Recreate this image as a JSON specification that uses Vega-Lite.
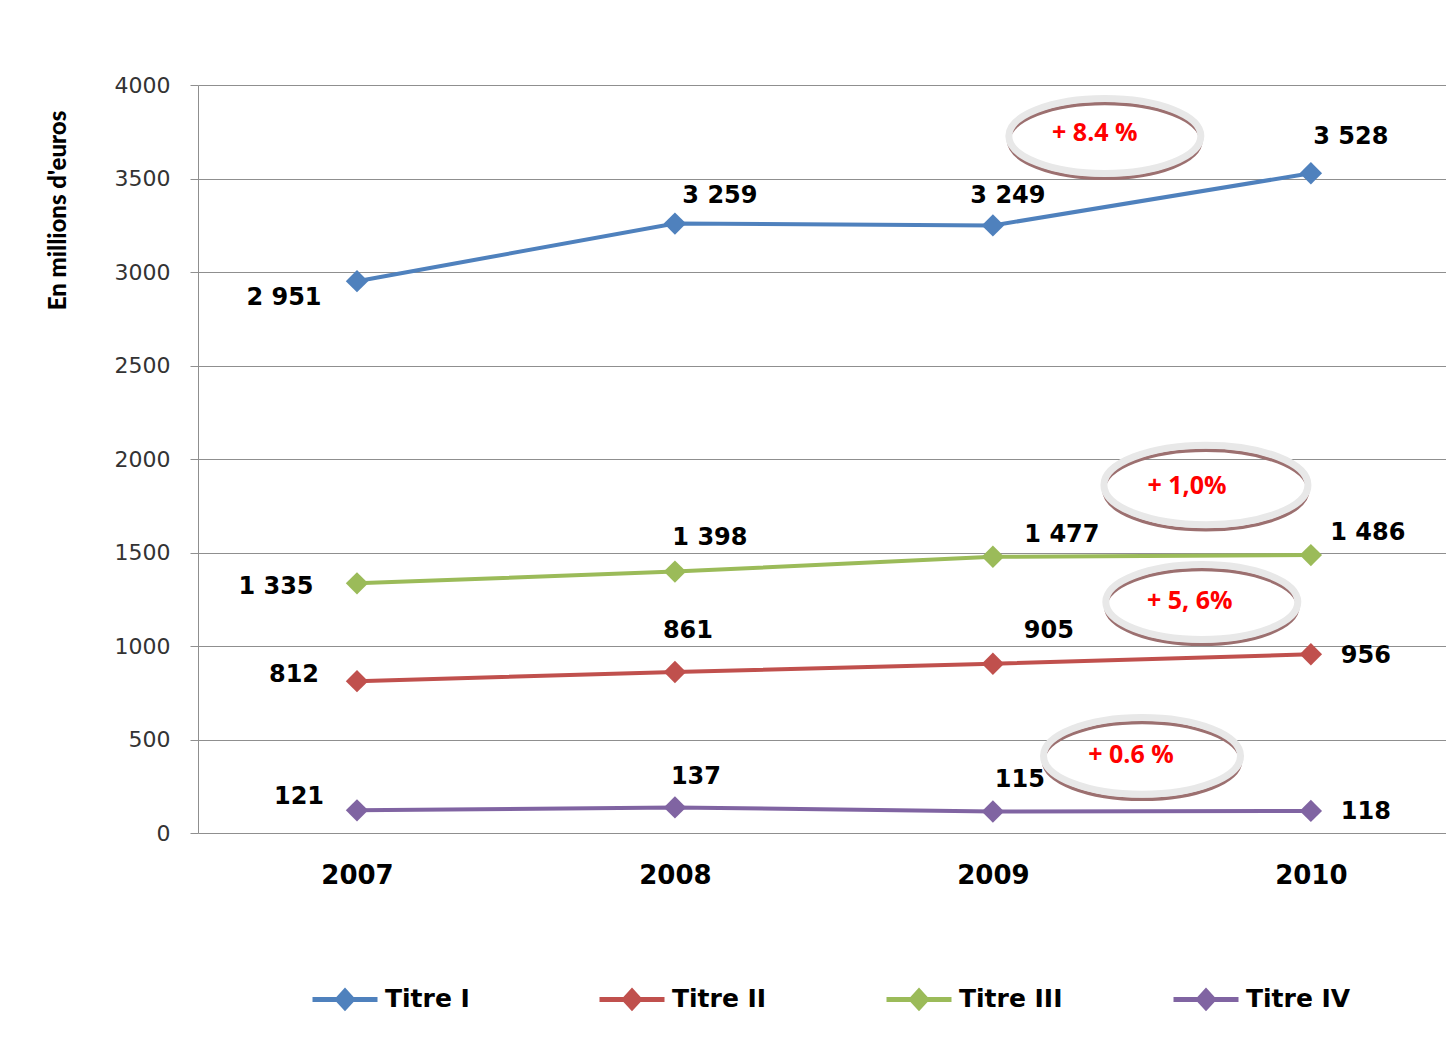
{
  "$schema": "https://vega.github.io/schema/vega-lite/v6.json",
  "width": 1248,
  "height": 748,
  "autosize": {"type": "none"},
  "padding": {"left": 198, "top": 85, "right": 0, "bottom": 206},
  "background": "white",
  "config": {
    "locale": {"number": {"decimal": ",", "thousands": " ", "grouping": [3], "currency": ["", " €"]}},
    "view": {"stroke": null},
    "text": {"font": "DejaVu Sans", "fontSize": 24, "fontWeight": "bold", "color": "#000", "align": "center", "baseline": "middle"}
  },
  "datasets": {
    "titres": [
      {"year": 2007, "series": "Titre I", "value": 2951},
      {"year": 2008, "series": "Titre I", "value": 3259},
      {"year": 2009, "series": "Titre I", "value": 3249},
      {"year": 2010, "series": "Titre I", "value": 3528},
      {"year": 2007, "series": "Titre II", "value": 812},
      {"year": 2008, "series": "Titre II", "value": 861},
      {"year": 2009, "series": "Titre II", "value": 905},
      {"year": 2010, "series": "Titre II", "value": 956},
      {"year": 2007, "series": "Titre III", "value": 1335},
      {"year": 2008, "series": "Titre III", "value": 1398},
      {"year": 2009, "series": "Titre III", "value": 1477},
      {"year": 2010, "series": "Titre III", "value": 1486},
      {"year": 2007, "series": "Titre IV", "value": 121},
      {"year": 2008, "series": "Titre IV", "value": 137},
      {"year": 2009, "series": "Titre IV", "value": 115},
      {"year": 2010, "series": "Titre IV", "value": 118}
    ]
  },
  "layer": [
    {
      "data": {"name": "titres"},
      "encoding": {
        "x": {
          "field": "year", "type": "quantitative",
          "scale": {"domain": [2006.5, 2010.425], "nice": false, "zero": false},
          "axis": {
            "title": null, "values": [2007, 2008, 2009, 2010], "format": "d",
            "labelFont": "DejaVu Sans", "labelFontSize": 26, "labelFontWeight": "bold", "labelColor": "#000",
            "domain": false, "ticks": false, "grid": false, "labelPadding": 29
          }
        },
        "y": {
          "field": "value", "type": "quantitative",
          "scale": {"domain": [0, 4000], "nice": false},
          "axis": {
            "title": "En millions d'euros", "titleFont": "Lato", "titleFontSize": 24, "titleFontWeight": 900, "titleColor": "#000",
            "titleX": -140, "titleY": 125, "titleAngle": -90, "titleAlign": "center", "titleBaseline": "middle",
            "values": [0, 500, 1000, 1500, 2000, 2500, 3000, 3500, 4000], "format": "d",
            "labelFont": "DejaVu Sans", "labelFontSize": 22, "labelColor": "#333",
            "labelPadding": 20, "tickSize": 8, "tickColor": "#8f8f8f", "domainColor": "#8f8f8f",
            "grid": true, "gridColor": "#8f8f8f", "gridWidth": 1.2
          }
        }
      },
      "layer": [
        {
          "mark": {"type": "line", "strokeWidth": 4},
          "encoding": {
            "color": {
              "field": "series", "type": "nominal",
              "scale": {"domain": ["Titre I", "Titre II", "Titre III", "Titre IV"], "range": ["#4F81BD", "#C0504D", "#9BBB59", "#8064A2"]},
              "legend": {
                "title": null, "orient": "none", "legendX": 112, "legendY": 879,
                "direction": "horizontal", "columns": 4, "gridAlign": "all", "columnPadding": 99,
                "symbolType": "M-1,0L1,0M0,-0.25L0.23,0L0,0.25L-0.23,0Z", "symbolSize": 4225, "symbolStrokeWidth": 5,
                "labelFont": "DejaVu Sans", "labelFontSize": 25, "labelFontWeight": "bold", "labelColor": "#000", "labelOffset": 5,
                "encode": {"symbols": {"update": {"fill": {"scale": "color", "field": "value"}, "stroke": {"scale": "color", "field": "value"}}}}
              }
            }
          }
        },
        {
          "mark": {"type": "point", "shape": "diamond", "filled": true, "size": 500, "opacity": 1},
          "encoding": {"color": {"field": "series", "type": "nominal"}}
        },
        {
          "encoding": {"text": {"field": "value", "type": "quantitative", "format": ",d"}},
          "layer": [
            {"transform": [{"filter": "datum.series === 'Titre I' && datum.year === 2007"}], "mark": {"type": "text", "dx": -73, "dy": 17}},
            {"transform": [{"filter": "datum.series === 'Titre I' && datum.year === 2008"}], "mark": {"type": "text", "dx": 45, "dy": -28}},
            {"transform": [{"filter": "datum.series === 'Titre I' && datum.year === 2009"}], "mark": {"type": "text", "dx": 15, "dy": -29}},
            {"transform": [{"filter": "datum.series === 'Titre I' && datum.year === 2010"}], "mark": {"type": "text", "dx": 40, "dy": -36}},
            {"transform": [{"filter": "datum.series === 'Titre II' && datum.year === 2007"}], "mark": {"type": "text", "dx": -63, "dy": -6}},
            {"transform": [{"filter": "datum.series === 'Titre II' && datum.year === 2008"}], "mark": {"type": "text", "dx": 13, "dy": -41}},
            {"transform": [{"filter": "datum.series === 'Titre II' && datum.year === 2009"}], "mark": {"type": "text", "dx": 56, "dy": -33}},
            {"transform": [{"filter": "datum.series === 'Titre II' && datum.year === 2010"}], "mark": {"type": "text", "dx": 55, "dy": 2}},
            {"transform": [{"filter": "datum.series === 'Titre III' && datum.year === 2007"}], "mark": {"type": "text", "dx": -81, "dy": 4}},
            {"transform": [{"filter": "datum.series === 'Titre III' && datum.year === 2008"}], "mark": {"type": "text", "dx": 35, "dy": -34}},
            {"transform": [{"filter": "datum.series === 'Titre III' && datum.year === 2009"}], "mark": {"type": "text", "dx": 69, "dy": -22}},
            {"transform": [{"filter": "datum.series === 'Titre III' && datum.year === 2010"}], "mark": {"type": "text", "dx": 57, "dy": -22}},
            {"transform": [{"filter": "datum.series === 'Titre IV' && datum.year === 2007"}], "mark": {"type": "text", "dx": -58, "dy": -13}},
            {"transform": [{"filter": "datum.series === 'Titre IV' && datum.year === 2008"}], "mark": {"type": "text", "dx": 21, "dy": -30}},
            {"transform": [{"filter": "datum.series === 'Titre IV' && datum.year === 2009"}], "mark": {"type": "text", "dx": 27, "dy": -31}},
            {"transform": [{"filter": "datum.series === 'Titre IV' && datum.year === 2010"}], "mark": {"type": "text", "dx": 55, "dy": 1}}
          ]
        }
      ]
    },
    {
      "data": {"values": [{"label": "+ 8.4 %"}]},
      "encoding": {"x": {"datum": 2009.352, "type": "quantitative"}, "y": {"datum": 3727, "type": "quantitative"}},
      "layer": [
        {"mark": {"type": "point", "shape": "M-1,0.05C-1,-0.165 -0.552,-0.34 0,-0.34C0.552,-0.34 1,-0.165 1,0.05C1,0.265 0.552,0.44 0,0.44C-0.552,0.44 -1,0.265 -1,0.05Z", "size": 36864, "filled": false, "stroke": "#9c7070", "strokeWidth": 3.5, "opacity": 1}},
        {"mark": {"type": "point", "shape": "M-1,0C-1,-0.215 -0.552,-0.39 0,-0.39C0.552,-0.39 1,-0.215 1,0C1,0.215 0.552,0.39 0,0.39C-0.552,0.39 -1,0.215 -1,0Z", "size": 36864, "filled": false, "stroke": "#e8e8e8", "strokeWidth": 7, "opacity": 1}},
        {"mark": {"type": "text", "font": "Open Sans", "fontSize": 25, "fontWeight": "bold", "color": "#ff0000", "dx": -10, "dy": -3}, "encoding": {"text": {"field": "label"}}}
      ]
    },
    {
      "data": {"values": [{"label": "+ 1,0%"}]},
      "encoding": {"x": {"datum": 2009.670, "type": "quantitative"}, "y": {"datum": 1861, "type": "quantitative"}},
      "layer": [
        {"mark": {"type": "point", "shape": "M-1,0.05C-1,-0.165 -0.552,-0.34 0,-0.34C0.552,-0.34 1,-0.165 1,0.05C1,0.265 0.552,0.44 0,0.44C-0.552,0.44 -1,0.265 -1,0.05Z", "size": 41616, "filled": false, "stroke": "#9c7070", "strokeWidth": 3.5, "opacity": 1}},
        {"mark": {"type": "point", "shape": "M-1,0C-1,-0.215 -0.552,-0.39 0,-0.39C0.552,-0.39 1,-0.215 1,0C1,0.215 0.552,0.39 0,0.39C-0.552,0.39 -1,0.215 -1,0Z", "size": 41616, "filled": false, "stroke": "#e8e8e8", "strokeWidth": 7, "opacity": 1}},
        {"mark": {"type": "text", "font": "Open Sans", "fontSize": 25, "fontWeight": "bold", "color": "#ff0000", "dx": -19, "dy": 1}, "encoding": {"text": {"field": "label"}}}
      ]
    },
    {
      "data": {"values": [{"label": "+ 5, 6%"}]},
      "encoding": {"x": {"datum": 2009.657, "type": "quantitative"}, "y": {"datum": 1235, "type": "quantitative"}},
      "layer": [
        {"mark": {"type": "point", "shape": "M-1,0.05C-1,-0.165 -0.552,-0.34 0,-0.34C0.552,-0.34 1,-0.165 1,0.05C1,0.265 0.552,0.44 0,0.44C-0.552,0.44 -1,0.265 -1,0.05Z", "size": 36864, "filled": false, "stroke": "#9c7070", "strokeWidth": 3.5, "opacity": 1}},
        {"mark": {"type": "point", "shape": "M-1,0C-1,-0.215 -0.552,-0.39 0,-0.39C0.552,-0.39 1,-0.215 1,0C1,0.215 0.552,0.39 0,0.39C-0.552,0.39 -1,0.215 -1,0Z", "size": 36864, "filled": false, "stroke": "#e8e8e8", "strokeWidth": 7, "opacity": 1}},
        {"mark": {"type": "text", "font": "Open Sans", "fontSize": 25, "fontWeight": "bold", "color": "#ff0000", "dx": -12, "dy": -1}, "encoding": {"text": {"field": "label"}}}
      ]
    },
    {
      "data": {"values": [{"label": "+ 0.6 %"}]},
      "encoding": {"x": {"datum": 2009.469, "type": "quantitative"}, "y": {"datum": 412, "type": "quantitative"}},
      "layer": [
        {"mark": {"type": "point", "shape": "M-1,0.05C-1,-0.165 -0.552,-0.34 0,-0.34C0.552,-0.34 1,-0.165 1,0.05C1,0.265 0.552,0.44 0,0.44C-0.552,0.44 -1,0.265 -1,0.05Z", "size": 38809, "filled": false, "stroke": "#9c7070", "strokeWidth": 3.5, "opacity": 1}},
        {"mark": {"type": "point", "shape": "M-1,0C-1,-0.215 -0.552,-0.39 0,-0.39C0.552,-0.39 1,-0.215 1,0C1,0.215 0.552,0.39 0,0.39C-0.552,0.39 -1,0.215 -1,0Z", "size": 38809, "filled": false, "stroke": "#e8e8e8", "strokeWidth": 7, "opacity": 1}},
        {"mark": {"type": "text", "font": "Open Sans", "fontSize": 25, "fontWeight": "bold", "color": "#ff0000", "dx": -11, "dy": -1}, "encoding": {"text": {"field": "label"}}}
      ]
    }
  ]
}
